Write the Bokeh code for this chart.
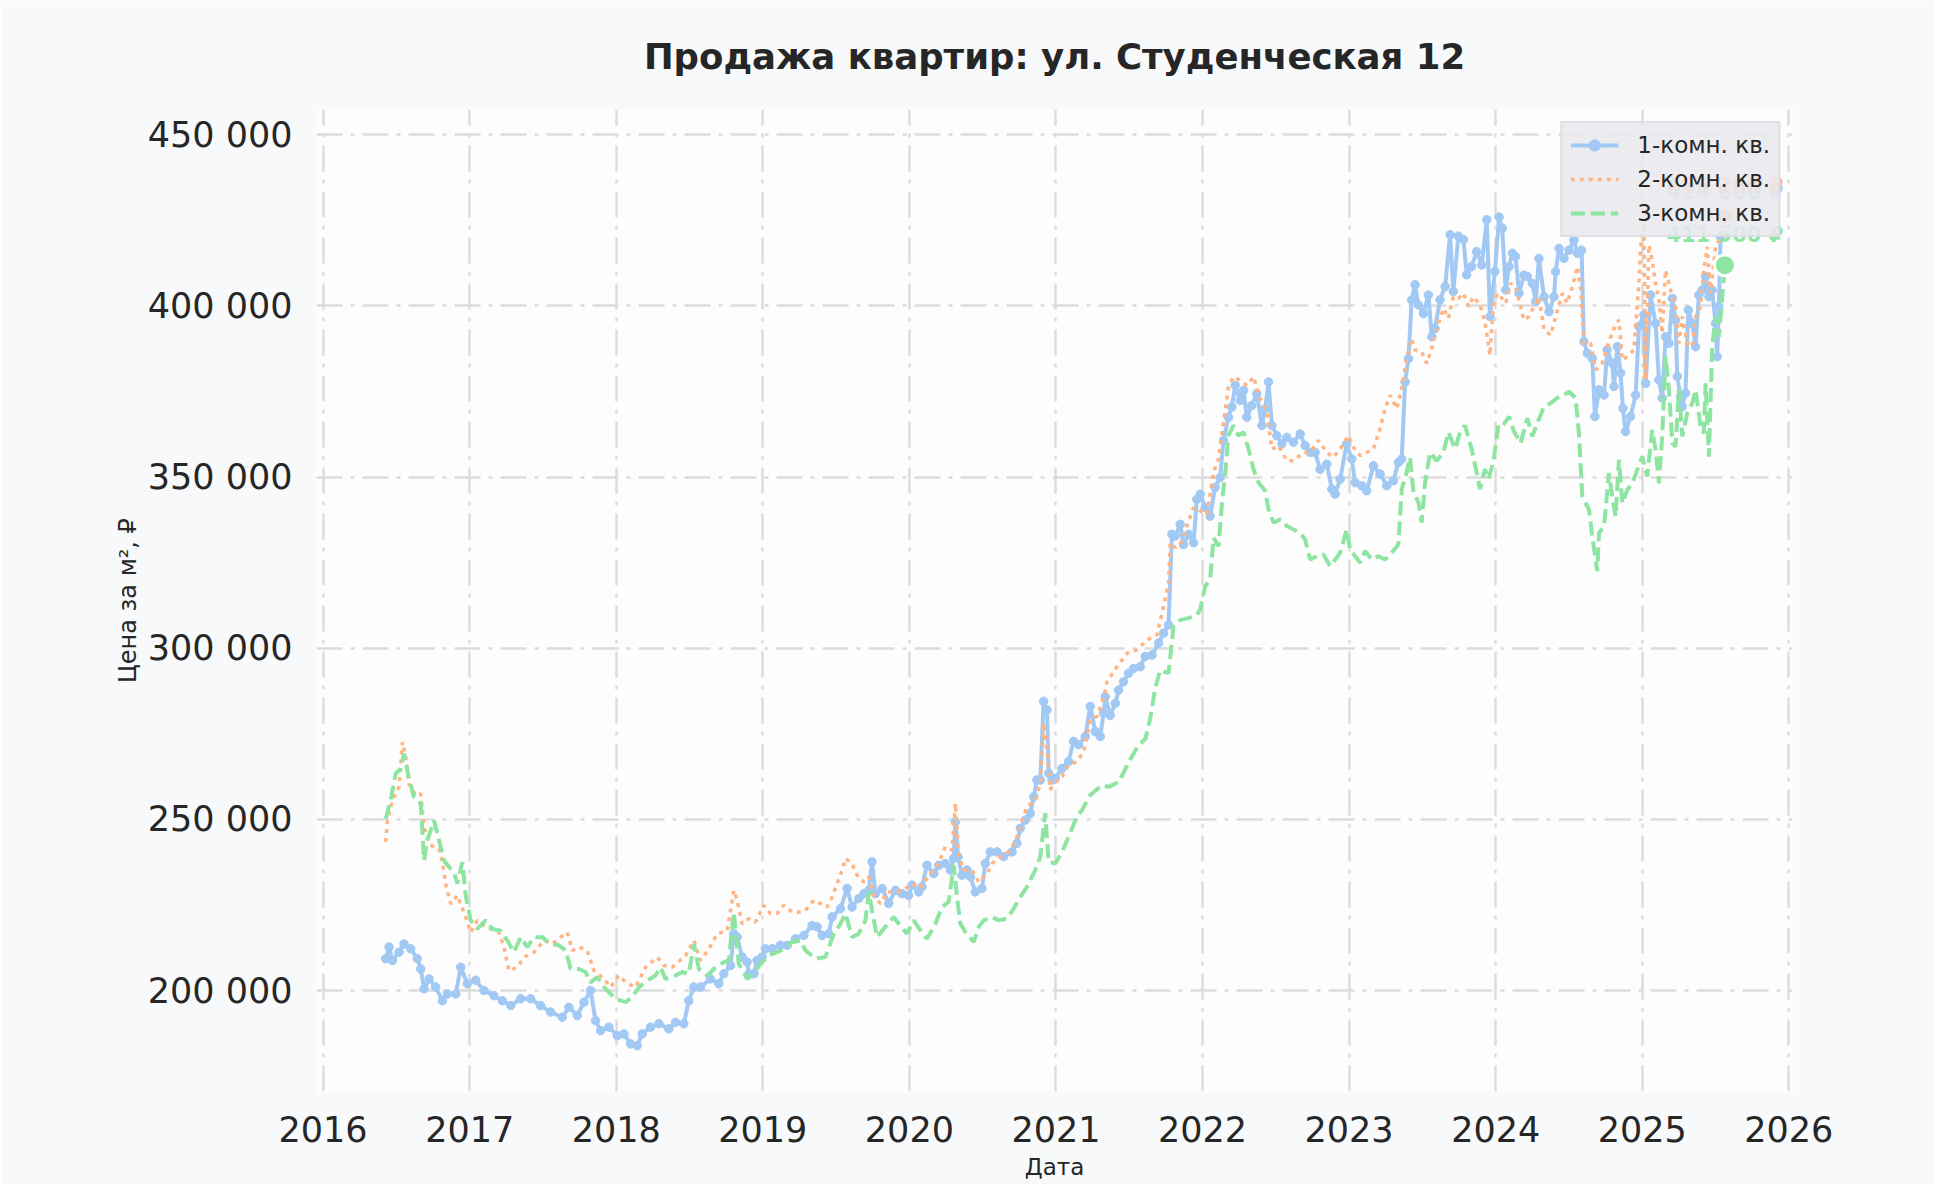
from bokeh.plotting import figure
from bokeh.models import Range1d, FixedTicker, CustomJSTickFormatter, Legend, LegendItem
from bokeh.core.properties import value
from bokeh.embed import file_html
from bokeh.resources import INLINE

TITLE = "Продажа квартир: ул. Студенческая 12"
X_LABEL = "Дата"
Y_LABEL = "Цена за м², ₽"
SERIES_NAMES = ["1-комн. кв.", "2-комн. кв.", "3-комн. кв."]
X_TICKS = [2016, 2017, 2018, 2019, 2020, 2021, 2022, 2023, 2024, 2025, 2026]
Y_TICKS = [200000, 250000, 300000, 350000, 400000, 450000]

# (decimal year, price per m2)
one_room = [
    (2016.427, 209300), (2016.450, 212700), (2016.473, 208800), (2016.518, 211200), (2016.552, 213600),
    (2016.598, 212200), (2016.643, 209300), (2016.666, 206300), (2016.689, 200500), (2016.723, 203400),
    (2016.768, 201000), (2016.814, 197000), (2016.848, 199000), (2016.905, 199000), (2016.939, 206800),
    (2016.984, 202000), (2017.041, 203000), (2017.098, 200000), (2017.166, 198500), (2017.223, 197000),
    (2017.280, 195600), (2017.348, 197600), (2017.416, 197600), (2017.484, 195600), (2017.552, 193700),
    (2017.632, 192200), (2017.677, 195100), (2017.734, 192700), (2017.780, 196600), (2017.825, 200000),
    (2017.859, 191200), (2017.893, 188300), (2017.950, 189300), (2018.007, 186800), (2018.052, 187300),
    (2018.098, 184400), (2018.143, 183900), (2018.177, 187300), (2018.234, 189300), (2018.291, 190300),
    (2018.359, 188800), (2018.405, 190700), (2018.461, 190300), (2018.495, 197000), (2018.530, 201000),
    (2018.575, 201000), (2018.643, 203400), (2018.700, 202000), (2018.734, 204900), (2018.780, 207300),
    (2018.802, 216600), (2018.825, 215600), (2018.859, 209800), (2018.893, 208300), (2018.905, 204900),
    (2018.939, 204900), (2018.961, 208800), (2018.995, 209800), (2019.018, 212200), (2019.064, 212200),
    (2019.120, 213200), (2019.166, 213200), (2019.223, 215100), (2019.280, 216100), (2019.336, 219000),
    (2019.370, 218600), (2019.405, 216100), (2019.450, 216600), (2019.473, 221500), (2019.530, 223900),
    (2019.575, 229800), (2019.609, 224400), (2019.655, 226900), (2019.689, 228300), (2019.723, 229300),
    (2019.745, 237600), (2019.768, 228300), (2019.814, 229800), (2019.859, 225400), (2019.905, 229300),
    (2019.950, 228300), (2019.995, 227800), (2020.018, 230800), (2020.064, 228800), (2020.086, 230300),
    (2020.120, 236600), (2020.166, 234200), (2020.200, 236600), (2020.245, 237100), (2020.280, 235200),
    (2020.302, 238600), (2020.314, 249300), (2020.332, 239100), (2020.359, 233700), (2020.393, 235200),
    (2020.416, 233200), (2020.450, 228800), (2020.495, 229800), (2020.518, 237100), (2020.552, 240500),
    (2020.598, 240500), (2020.643, 239100), (2020.700, 240500), (2020.734, 243000), (2020.757, 247400),
    (2020.791, 249800), (2020.825, 251800), (2020.848, 256600), (2020.870, 261500), (2020.893, 261500),
    (2020.916, 284500), (2020.939, 282000), (2020.950, 263500), (2020.973, 261500), (2020.995, 262000),
    (2021.041, 264900), (2021.086, 266900), (2021.120, 272800), (2021.155, 271800), (2021.200, 274200),
    (2021.234, 283000), (2021.268, 275700), (2021.302, 274200), (2021.325, 281000), (2021.336, 285800),
    (2021.370, 280400), (2021.405, 283900), (2021.427, 287800), (2021.461, 290200), (2021.495, 292700),
    (2021.530, 294100), (2021.575, 294600), (2021.609, 297600), (2021.655, 298000), (2021.700, 301500),
    (2021.734, 304400), (2021.768, 306800), (2021.791, 333300), (2021.814, 332800), (2021.848, 336200),
    (2021.870, 330300), (2021.905, 333300), (2021.939, 330800), (2021.961, 343500), (2021.984, 345000),
    (2022.018, 341100), (2022.052, 338600), (2022.086, 347000), (2022.120, 349900), (2022.143, 360700),
    (2022.177, 367500), (2022.200, 370500), (2022.223, 376800), (2022.257, 372400), (2022.280, 375300),
    (2022.302, 367500), (2022.336, 370900), (2022.370, 374400), (2022.405, 365100), (2022.427, 370000),
    (2022.450, 377800), (2022.473, 365100), (2022.507, 362100), (2022.541, 359700), (2022.575, 361600),
    (2022.620, 360200), (2022.666, 362600), (2022.700, 359200), (2022.734, 357200), (2022.768, 357200),
    (2022.802, 352300), (2022.848, 353800), (2022.882, 346500), (2022.905, 345000), (2022.939, 349400),
    (2022.984, 359700), (2023.018, 355300), (2023.041, 348400), (2023.086, 347500), (2023.120, 346000),
    (2023.166, 353300), (2023.211, 350900), (2023.257, 347500), (2023.302, 348900), (2023.336, 354300),
    (2023.359, 355300), (2023.382, 377800), (2023.405, 384600), (2023.427, 401800), (2023.450, 406200),
    (2023.473, 400300), (2023.507, 397800), (2023.541, 403200), (2023.564, 391000), (2023.586, 393400),
    (2023.620, 401800), (2023.655, 405700), (2023.689, 420800), (2023.711, 404200), (2023.745, 420400),
    (2023.780, 419400), (2023.802, 409100), (2023.836, 411500), (2023.870, 415900), (2023.905, 412000),
    (2023.939, 425200), (2023.961, 396900), (2023.995, 410100), (2024.023, 426000), (2024.045, 422700),
    (2024.068, 404700), (2024.091, 411500), (2024.114, 415400), (2024.136, 414400), (2024.159, 403700),
    (2024.193, 409000), (2024.216, 408600), (2024.250, 406600), (2024.273, 401300), (2024.295, 413900),
    (2024.330, 402700), (2024.364, 398300), (2024.398, 402700), (2024.409, 410000), (2024.432, 416800),
    (2024.466, 413900), (2024.500, 416300), (2024.534, 419300), (2024.557, 415400), (2024.586, 416300),
    (2024.602, 389600), (2024.625, 386200), (2024.659, 384700), (2024.677, 367700), (2024.705, 375500),
    (2024.739, 374000), (2024.761, 387200), (2024.795, 383300), (2024.807, 376500), (2024.830, 388100),
    (2024.852, 380400), (2024.868, 370100), (2024.886, 363300), (2024.920, 367700), (2024.955, 374000),
    (2024.977, 394000), (2025.011, 397400), (2025.023, 377400), (2025.057, 403200), (2025.091, 394900),
    (2025.114, 378400), (2025.136, 373100), (2025.159, 391000), (2025.182, 389100), (2025.205, 402200),
    (2025.227, 395900), (2025.239, 379400), (2025.261, 373500), (2025.273, 370600), (2025.295, 374500),
    (2025.314, 398800), (2025.341, 394900), (2025.364, 388100), (2025.386, 403200), (2025.409, 404700),
    (2025.432, 408600), (2025.455, 402700), (2025.477, 404700), (2025.500, 394900), (2025.511, 385200),
    (2025.523, 399800), (2025.534, 420200), (2025.564, 424600),
]

two_room = [
    (2016.427, 243400), (2016.439, 249700), (2016.473, 255600), (2016.518, 259500), (2016.541, 272600),
    (2016.564, 268200), (2016.586, 260400), (2016.632, 257000), (2016.666, 257500), (2016.689, 247800),
    (2016.723, 242900), (2016.757, 241900), (2016.791, 241400), (2016.814, 237500), (2016.836, 231200),
    (2016.870, 225300), (2016.916, 227800), (2016.973, 221400), (2017.007, 217000), (2017.052, 220500),
    (2017.098, 219000), (2017.143, 218000), (2017.200, 217000), (2017.234, 212700), (2017.268, 205800),
    (2017.325, 206800), (2017.370, 209700), (2017.439, 211200), (2017.507, 214600), (2017.564, 213600),
    (2017.620, 215600), (2017.666, 217000), (2017.700, 211700), (2017.745, 212700), (2017.802, 211700),
    (2017.848, 205800), (2017.916, 203400), (2017.961, 201000), (2018.018, 204400), (2018.075, 202000),
    (2018.132, 201000), (2018.200, 206800), (2018.280, 209700), (2018.325, 207300), (2018.382, 206800),
    (2018.473, 210200), (2018.530, 214600), (2018.575, 208800), (2018.632, 212200), (2018.689, 216600),
    (2018.757, 217500), (2018.802, 229300), (2018.825, 226400), (2018.859, 219500), (2018.905, 221000),
    (2018.950, 220000), (2019.007, 224900), (2019.052, 222500), (2019.098, 222500), (2019.143, 224900),
    (2019.200, 222900), (2019.245, 222900), (2019.291, 223400), (2019.348, 226400), (2019.393, 225400),
    (2019.439, 224400), (2019.473, 227300), (2019.507, 231300), (2019.541, 235200), (2019.564, 238600),
    (2019.609, 237100), (2019.643, 233700), (2019.689, 231700), (2019.723, 233200), (2019.757, 227800),
    (2019.802, 225400), (2019.848, 228800), (2019.905, 228800), (2019.961, 229300), (2020.018, 231300),
    (2020.064, 229800), (2020.109, 232200), (2020.166, 235200), (2020.200, 237100), (2020.245, 242000),
    (2020.291, 241000), (2020.314, 254700), (2020.336, 239600), (2020.370, 235200), (2020.427, 235200),
    (2020.473, 231700), (2020.530, 234200), (2020.564, 237100), (2020.620, 239100), (2020.677, 240500),
    (2020.723, 243500), (2020.757, 247900), (2020.802, 253700), (2020.859, 255700), (2020.893, 260500),
    (2020.916, 278100), (2020.939, 270300), (2020.961, 258600), (2020.984, 260500), (2021.041, 262500),
    (2021.086, 265900), (2021.143, 266900), (2021.189, 269800), (2021.234, 279100), (2021.280, 280100),
    (2021.325, 285400), (2021.348, 290200), (2021.416, 294600), (2021.484, 298500), (2021.552, 299500),
    (2021.620, 302400), (2021.689, 303900), (2021.734, 312200), (2021.768, 319100), (2021.780, 330800),
    (2021.814, 329400), (2021.848, 330300), (2021.893, 335700), (2021.939, 341100), (2021.984, 340100),
    (2022.030, 339100), (2022.075, 351400), (2022.109, 355300), (2022.143, 366100), (2022.177, 376300),
    (2022.211, 379300), (2022.257, 378300), (2022.302, 376800), (2022.348, 379300), (2022.393, 372900),
    (2022.439, 369000), (2022.473, 358200), (2022.518, 359200), (2022.575, 354800), (2022.620, 354800),
    (2022.689, 357200), (2022.734, 357200), (2022.791, 360700), (2022.848, 357200), (2022.893, 355800),
    (2022.939, 358200), (2022.995, 362100), (2023.030, 358700), (2023.075, 356300), (2023.120, 357200),
    (2023.166, 358200), (2023.211, 364100), (2023.245, 370000), (2023.280, 373900), (2023.325, 370000),
    (2023.359, 375800), (2023.393, 384600), (2023.427, 390500), (2023.450, 387100), (2023.495, 386600),
    (2023.530, 383200), (2023.564, 387600), (2023.598, 393400), (2023.643, 399300), (2023.677, 396400),
    (2023.711, 402700), (2023.745, 402200), (2023.780, 403700), (2023.814, 399800), (2023.848, 402700),
    (2023.893, 400300), (2023.927, 395400), (2023.961, 385600), (2023.984, 400300), (2024.011, 403700),
    (2024.034, 402700), (2024.068, 400800), (2024.102, 406600), (2024.136, 405600), (2024.170, 399800),
    (2024.193, 395900), (2024.227, 396900), (2024.261, 399800), (2024.295, 402700), (2024.330, 393000),
    (2024.375, 391500), (2024.409, 396900), (2024.455, 403700), (2024.489, 400800), (2024.523, 405600),
    (2024.557, 411500), (2024.580, 404700), (2024.602, 389100), (2024.648, 389100), (2024.682, 381300),
    (2024.727, 383300), (2024.773, 389600), (2024.818, 394500), (2024.841, 395900), (2024.864, 384200),
    (2024.898, 385200), (2024.943, 387200), (2024.977, 406600), (2024.989, 417300), (2025.011, 424000),
    (2025.023, 378400), (2025.045, 417800), (2025.068, 413400), (2025.091, 406600), (2025.114, 401800),
    (2025.136, 392000), (2025.159, 410500), (2025.193, 404700), (2025.227, 399800), (2025.250, 389100),
    (2025.273, 396900), (2025.307, 389100), (2025.341, 388100), (2025.364, 396900), (2025.398, 399800),
    (2025.420, 410500), (2025.443, 417300), (2025.466, 403700), (2025.500, 417300), (2025.523, 419300),
    (2025.564, 426200),
]

three_room = [
    (2016.427, 250200), (2016.461, 255600), (2016.495, 263400), (2016.530, 264800), (2016.552, 269200),
    (2016.586, 261900), (2016.620, 256500), (2016.666, 254600), (2016.689, 238000), (2016.711, 243900),
    (2016.757, 249700), (2016.791, 243900), (2016.825, 238000), (2016.859, 236100), (2016.893, 234600),
    (2016.916, 231200), (2016.950, 237500), (2016.973, 227800), (2017.007, 220500), (2017.052, 218000),
    (2017.109, 220500), (2017.155, 218000), (2017.211, 217500), (2017.257, 214600), (2017.302, 211200),
    (2017.348, 215600), (2017.393, 212700), (2017.439, 215600), (2017.495, 215600), (2017.552, 213600),
    (2017.609, 213200), (2017.655, 211700), (2017.689, 206300), (2017.745, 206300), (2017.791, 205400),
    (2017.825, 202400), (2017.870, 203900), (2017.927, 200500), (2017.995, 197600), (2018.064, 196600),
    (2018.109, 198100), (2018.155, 201000), (2018.211, 202900), (2018.268, 204400), (2018.302, 206800),
    (2018.336, 203400), (2018.382, 203900), (2018.450, 205400), (2018.495, 204900), (2018.530, 213600),
    (2018.564, 206300), (2018.620, 204400), (2018.666, 206300), (2018.734, 208300), (2018.768, 208800),
    (2018.802, 222900), (2018.836, 207800), (2018.893, 203400), (2018.939, 204900), (2018.984, 207800),
    (2019.041, 210300), (2019.098, 211200), (2019.143, 212200), (2019.200, 214200), (2019.257, 214600),
    (2019.291, 211700), (2019.359, 209300), (2019.427, 209800), (2019.484, 216600), (2019.530, 219500),
    (2019.564, 222500), (2019.609, 215600), (2019.655, 216600), (2019.700, 220500), (2019.723, 228800),
    (2019.745, 223400), (2019.780, 215600), (2019.836, 218600), (2019.893, 221500), (2019.927, 219500),
    (2019.984, 216600), (2020.030, 220500), (2020.075, 217600), (2020.120, 215100), (2020.177, 219500),
    (2020.223, 224400), (2020.268, 225900), (2020.302, 236600), (2020.325, 227300), (2020.348, 219500),
    (2020.382, 217100), (2020.439, 214200), (2020.473, 218600), (2020.507, 220500), (2020.564, 221500),
    (2020.609, 220500), (2020.666, 221000), (2020.711, 223900), (2020.757, 227300), (2020.802, 230300),
    (2020.859, 235200), (2020.893, 239100), (2020.927, 251800), (2020.950, 237600), (2020.995, 237100),
    (2021.041, 240500), (2021.086, 244900), (2021.143, 250800), (2021.177, 252700), (2021.234, 257100),
    (2021.314, 260000), (2021.360, 259500), (2021.430, 261000), (2021.500, 267000), (2021.560, 271500),
    (2021.610, 273500), (2021.643, 279500), (2021.677, 288300), (2021.711, 293600), (2021.768, 292700),
    (2021.802, 306400), (2021.848, 308300), (2021.905, 308800), (2021.961, 309800), (2021.984, 311300),
    (2022.018, 318100), (2022.052, 320100), (2022.075, 332300), (2022.109, 329800), (2022.132, 342100),
    (2022.155, 351400), (2022.177, 362100), (2022.211, 365100), (2022.245, 362100), (2022.280, 363100),
    (2022.314, 358200), (2022.348, 352300), (2022.382, 348400), (2022.427, 346000), (2022.450, 340600),
    (2022.484, 336700), (2022.530, 337600), (2022.575, 335700), (2022.620, 334700), (2022.666, 333700),
    (2022.700, 331800), (2022.734, 325900), (2022.780, 326900), (2022.825, 327400), (2022.870, 324000),
    (2022.905, 325900), (2022.939, 327900), (2022.984, 334700), (2023.007, 328800), (2023.041, 326900),
    (2023.075, 325000), (2023.109, 328400), (2023.155, 325900), (2023.200, 326900), (2023.245, 325900),
    (2023.291, 327900), (2023.336, 330300), (2023.359, 346500), (2023.393, 351400), (2023.416, 355800),
    (2023.439, 345500), (2023.473, 342600), (2023.495, 336700), (2023.518, 348400), (2023.552, 357200),
    (2023.598, 354800), (2023.643, 357200), (2023.677, 363100), (2023.723, 358200), (2023.757, 363100),
    (2023.791, 365100), (2023.836, 358200), (2023.870, 351400), (2023.893, 346500), (2023.927, 352300),
    (2023.950, 349400), (2023.984, 354300), (2024.018, 365100), (2024.045, 364800), (2024.091, 367700),
    (2024.125, 363300), (2024.170, 359900), (2024.216, 367200), (2024.250, 361900), (2024.284, 365800),
    (2024.330, 370600), (2024.375, 371600), (2024.420, 373100), (2024.466, 374000), (2024.500, 375000),
    (2024.545, 373100), (2024.568, 362800), (2024.591, 344400), (2024.636, 340500), (2024.659, 332700),
    (2024.693, 322500), (2024.705, 333700), (2024.739, 335600), (2024.773, 351200), (2024.795, 344400),
    (2024.818, 338500), (2024.841, 355100), (2024.864, 342400), (2024.898, 346300), (2024.932, 348200),
    (2024.966, 352100), (2025.000, 356000), (2025.034, 350200), (2025.068, 363800), (2025.091, 358000),
    (2025.114, 348200), (2025.136, 361900), (2025.159, 385200), (2025.182, 375500), (2025.205, 359900),
    (2025.227, 358900), (2025.250, 375500), (2025.273, 361900), (2025.307, 368700), (2025.341, 371600),
    (2025.364, 375500), (2025.398, 364800), (2025.420, 362800), (2025.432, 377400), (2025.455, 356000),
    (2025.477, 388100), (2025.500, 396900), (2025.523, 391000), (2025.564, 411900),
]

COLORS = ["#a1c9f4", "#ffb482", "#8de5a1"]
FONT = "DejaVu Sans"
TEXT_COLOR = "#262626"

p = figure(width=1934, height=1184, output_backend="svg", toolbar_location=None,
           x_range=Range1d(2015.955, 2026.025), y_range=Range1d(170500, 457400),
           min_border_left=316, min_border_right=142, min_border_top=109, min_border_bottom=93)

p.background_fill_color = "#fdfdfe"
p.border_fill_color = "#f8f9fb"
p.outline_line_color = None

p.title.text = TITLE
p.title.align = "center"
p.title.vertical_align = "bottom"
p.title.text_font = FONT
p.title.text_font_size = "35.5px"
p.title.text_font_style = "bold"
p.title.text_color = TEXT_COLOR
p.title.standoff = 66

for ax in (p.xaxis[0], p.yaxis[0]):
    ax.axis_line_color = None
    ax.major_tick_line_color = None
    ax.minor_tick_line_color = None
    ax.major_tick_out = 0
    ax.major_tick_in = 0
    ax.major_label_text_font = FONT
    ax.major_label_text_font_size = "35px"
    ax.major_label_text_color = TEXT_COLOR
    ax.axis_label_text_font = FONT
    ax.axis_label_text_font_style = "normal"
    ax.axis_label_text_color = TEXT_COLOR

p.xaxis.axis_label = X_LABEL
p.yaxis.axis_label = Y_LABEL
p.xaxis.axis_label_text_font_size = "23px"
p.yaxis.axis_label_text_font_size = "24px"
p.xaxis.ticker = FixedTicker(ticks=X_TICKS)
p.yaxis.ticker = FixedTicker(ticks=Y_TICKS)
p.xaxis.formatter = CustomJSTickFormatter(code="return tick.toFixed(0);")
p.yaxis.formatter = CustomJSTickFormatter(
    code="return Math.round(tick).toString().replace(/\\B(?=(\\d{3})+(?!\\d))/g, ' ');")
p.xaxis.major_label_standoff = 24
p.yaxis.major_label_standoff = 24
p.xaxis.axis_label_standoff = 9
p.yaxis.axis_label_standoff = 3

for g in (p.xgrid[0], p.ygrid[0]):
    g.grid_line_color = "#dcdcdc"
    g.grid_line_width = 2.5
    g.grid_line_dash = "26 8 4 8"

def unzip(series):
    return [t for t, _ in series], [v for _, v in series]

blue_t, blue_v = unzip(one_room)
orange_t, orange_v = unzip(two_room)
green_t, green_v = unzip(three_room)

r_blue_line = p.line(blue_t, blue_v, line_color=COLORS[0], line_width=4)
r_blue_pts = p.scatter(blue_t, blue_v, size=8.5, fill_color=COLORS[0], line_color=COLORS[0])
r_orange = p.line(orange_t, orange_v, line_color=COLORS[1], line_width=3.5, line_dash="4 5")
r_green = p.line(green_t, green_v, line_color=COLORS[2], line_width=4, line_dash="14 6")

def fmt(v):
    s = f"{int(round(v)):,}".replace(",", " ")
    return s + " ₽"

end_sizes = [17, 17, 21]
text_offset = -30
series_xy = [(blue_t, blue_v), (orange_t, orange_v), (green_t, green_v)]
for (ts, vs), color in zip(series_xy, COLORS):
    p.text(x=[ts[-1]], y=[vs[-1]], text=[fmt(vs[-1])], text_color=color,
           text_font=value(FONT), text_font_style="bold", text_font_size="21px",
           text_align="center", text_baseline="middle", y_offset=text_offset)
for (ts, vs), color, sz in zip(series_xy, COLORS, end_sizes):
    p.scatter(x=[ts[-1]], y=[vs[-1]], size=sz, fill_color=color,
              line_color="white", line_width=3, level="overlay")

legend = Legend(items=[
    LegendItem(label=SERIES_NAMES[0], renderers=[r_blue_line, r_blue_pts]),
    LegendItem(label=SERIES_NAMES[1], renderers=[r_orange]),
    LegendItem(label=SERIES_NAMES[2], renderers=[r_green]),
], location="top_right")
legend.margin = 12
legend.padding = 8
legend.spacing = 6
legend.label_height = 28
legend.glyph_height = 28
legend.glyph_width = 48
legend.label_standoff = 19
legend.label_text_font = FONT
legend.label_text_font_size = "23px"
legend.label_text_color = TEXT_COLOR
legend.background_fill_color = "#e8e8ee"
legend.background_fill_alpha = 0.88
legend.border_line_color = "#d6d6dc"
legend.border_line_width = 2
p.add_layout(legend, "center")

open("out.html", "w").write(file_html(p, INLINE))
